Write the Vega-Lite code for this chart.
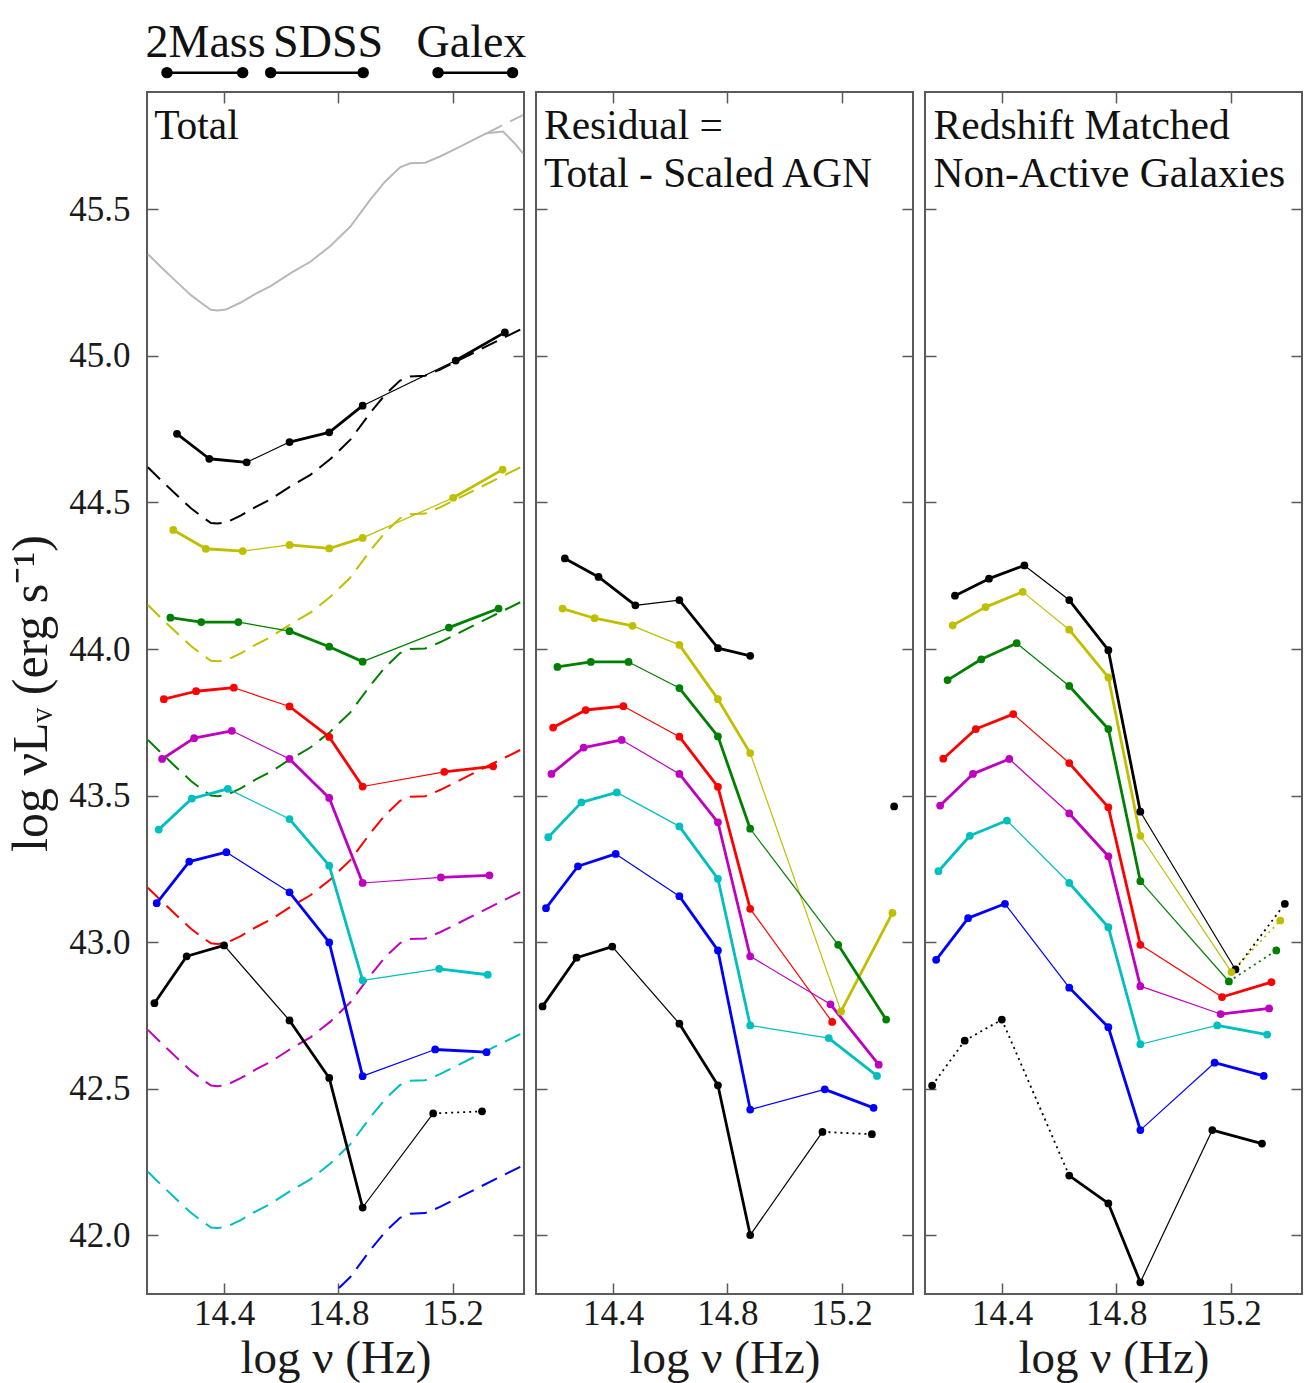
{
  "$schema": "https://vega.github.io/schema/vega-lite/v6.json",
  "background": "white",
  "padding": {"left": 5, "top": 18, "right": 4, "bottom": 2},
  "spacing": 12,
  "bounds": "flush",
  "config": {
    "view": {"stroke": "#5a5a5a", "strokeWidth": 2},
    "font": "Liberation Serif",
    "axis": {
      "domain": false, "grid": false, "ticks": true, "tickSize": -11,
      "tickColor": "#5a5a5a", "tickWidth": 1.5,
      "labelFont": "Liberation Serif", "labelFontSize": 35, "labelColor": "#1a1a1a",
      "titleFont": "Liberation Serif", "titleFontSize": 47, "titleFontWeight": "normal", "titleColor": "#1a1a1a"
    }
  },
  "datasets": {
    "surveys": [
      {"survey": "2Mass", "lo": 14.200, "hi": 14.465, "center": 14.335},
      {"survey": "SDSS", "lo": 14.563, "hi": 14.887, "center": 14.764},
      {"survey": "Galex", "lo": 15.149, "hi": 15.410, "center": 15.266}
    ],
    "panels": [
      {"panel": "Total", "label": "Total"},
      {"panel": "Residual", "label": "Residual =\nTotal - Scaled AGN"},
      {"panel": "Matched", "label": "Redshift Matched\nNon-Active Galaxies"}
    ],
    "composite": [
      {"x": 14.133, "y": 45.347}, {"x": 14.179, "y": 45.303}, {"x": 14.232, "y": 45.254}, {"x": 14.284, "y": 45.207},
      {"x": 14.319, "y": 45.181}, {"x": 14.354, "y": 45.157}, {"x": 14.377, "y": 45.155}, {"x": 14.406, "y": 45.158},
      {"x": 14.458, "y": 45.182}, {"x": 14.511, "y": 45.212}, {"x": 14.563, "y": 45.238}, {"x": 14.633, "y": 45.282},
      {"x": 14.702, "y": 45.321}, {"x": 14.772, "y": 45.375}, {"x": 14.842, "y": 45.441}, {"x": 14.912, "y": 45.533},
      {"x": 14.964, "y": 45.595}, {"x": 15.016, "y": 45.643}, {"x": 15.051, "y": 45.657}, {"x": 15.104, "y": 45.659},
      {"x": 15.156, "y": 45.680}, {"x": 15.226, "y": 45.714}, {"x": 15.295, "y": 45.748}, {"x": 15.319, "y": 45.759},
      {"x": 15.377, "y": 45.765}, {"x": 15.423, "y": 45.719}, {"x": 15.446, "y": 45.691}
    ],
    "scaled": [
      {"sample": "Q", "x": 15.320, "y": 45.760}, {"sample": "Q", "x": 15.365, "y": 45.782}, {"sample": "Q", "x": 15.446, "y": 45.821},

      {"sample": "S1", "x": 14.133, "y": 44.620}, {"sample": "S1", "x": 14.179, "y": 44.576}, {"sample": "S1", "x": 14.232, "y": 44.527},
      {"sample": "S1", "x": 14.284, "y": 44.480}, {"sample": "S1", "x": 14.319, "y": 44.454}, {"sample": "S1", "x": 14.354, "y": 44.430},
      {"sample": "S1", "x": 14.377, "y": 44.428}, {"sample": "S1", "x": 14.406, "y": 44.431}, {"sample": "S1", "x": 14.458, "y": 44.455},
      {"sample": "S1", "x": 14.511, "y": 44.485}, {"sample": "S1", "x": 14.563, "y": 44.511}, {"sample": "S1", "x": 14.633, "y": 44.555},
      {"sample": "S1", "x": 14.702, "y": 44.594}, {"sample": "S1", "x": 14.772, "y": 44.648}, {"sample": "S1", "x": 14.842, "y": 44.714},
      {"sample": "S1", "x": 14.912, "y": 44.806}, {"sample": "S1", "x": 14.964, "y": 44.868}, {"sample": "S1", "x": 15.016, "y": 44.916},
      {"sample": "S1", "x": 15.051, "y": 44.930}, {"sample": "S1", "x": 15.104, "y": 44.932}, {"sample": "S1", "x": 15.156, "y": 44.953},
      {"sample": "S1", "x": 15.226, "y": 44.987}, {"sample": "S1", "x": 15.295, "y": 45.021}, {"sample": "S1", "x": 15.365, "y": 45.055},
      {"sample": "S1", "x": 15.446, "y": 45.094},

      {"sample": "S2", "x": 14.133, "y": 44.150}, {"sample": "S2", "x": 14.179, "y": 44.106}, {"sample": "S2", "x": 14.232, "y": 44.057},
      {"sample": "S2", "x": 14.284, "y": 44.010}, {"sample": "S2", "x": 14.319, "y": 43.984}, {"sample": "S2", "x": 14.354, "y": 43.960},
      {"sample": "S2", "x": 14.377, "y": 43.958}, {"sample": "S2", "x": 14.406, "y": 43.961}, {"sample": "S2", "x": 14.458, "y": 43.985},
      {"sample": "S2", "x": 14.511, "y": 44.015}, {"sample": "S2", "x": 14.563, "y": 44.041}, {"sample": "S2", "x": 14.633, "y": 44.085},
      {"sample": "S2", "x": 14.702, "y": 44.124}, {"sample": "S2", "x": 14.772, "y": 44.178}, {"sample": "S2", "x": 14.842, "y": 44.244},
      {"sample": "S2", "x": 14.912, "y": 44.336}, {"sample": "S2", "x": 14.964, "y": 44.398}, {"sample": "S2", "x": 15.016, "y": 44.446},
      {"sample": "S2", "x": 15.051, "y": 44.460}, {"sample": "S2", "x": 15.104, "y": 44.462}, {"sample": "S2", "x": 15.156, "y": 44.483},
      {"sample": "S2", "x": 15.226, "y": 44.517}, {"sample": "S2", "x": 15.295, "y": 44.551}, {"sample": "S2", "x": 15.365, "y": 44.585},
      {"sample": "S2", "x": 15.446, "y": 44.624},

      {"sample": "S3", "x": 14.133, "y": 43.690}, {"sample": "S3", "x": 14.179, "y": 43.646}, {"sample": "S3", "x": 14.232, "y": 43.597},
      {"sample": "S3", "x": 14.284, "y": 43.550}, {"sample": "S3", "x": 14.319, "y": 43.524}, {"sample": "S3", "x": 14.354, "y": 43.500},
      {"sample": "S3", "x": 14.377, "y": 43.498}, {"sample": "S3", "x": 14.406, "y": 43.501}, {"sample": "S3", "x": 14.458, "y": 43.525},
      {"sample": "S3", "x": 14.511, "y": 43.555}, {"sample": "S3", "x": 14.563, "y": 43.581}, {"sample": "S3", "x": 14.633, "y": 43.625},
      {"sample": "S3", "x": 14.702, "y": 43.664}, {"sample": "S3", "x": 14.772, "y": 43.718}, {"sample": "S3", "x": 14.842, "y": 43.784},
      {"sample": "S3", "x": 14.912, "y": 43.876}, {"sample": "S3", "x": 14.964, "y": 43.938}, {"sample": "S3", "x": 15.016, "y": 43.986},
      {"sample": "S3", "x": 15.051, "y": 44.000}, {"sample": "S3", "x": 15.104, "y": 44.002}, {"sample": "S3", "x": 15.156, "y": 44.023},
      {"sample": "S3", "x": 15.226, "y": 44.057}, {"sample": "S3", "x": 15.295, "y": 44.091}, {"sample": "S3", "x": 15.365, "y": 44.125},
      {"sample": "S3", "x": 15.446, "y": 44.164},

      {"sample": "S4", "x": 14.133, "y": 43.186}, {"sample": "S4", "x": 14.179, "y": 43.142}, {"sample": "S4", "x": 14.232, "y": 43.093},
      {"sample": "S4", "x": 14.284, "y": 43.046}, {"sample": "S4", "x": 14.319, "y": 43.020}, {"sample": "S4", "x": 14.354, "y": 42.996},
      {"sample": "S4", "x": 14.377, "y": 42.994}, {"sample": "S4", "x": 14.406, "y": 42.997}, {"sample": "S4", "x": 14.458, "y": 43.021},
      {"sample": "S4", "x": 14.511, "y": 43.051}, {"sample": "S4", "x": 14.563, "y": 43.077}, {"sample": "S4", "x": 14.633, "y": 43.121},
      {"sample": "S4", "x": 14.702, "y": 43.160}, {"sample": "S4", "x": 14.772, "y": 43.214}, {"sample": "S4", "x": 14.842, "y": 43.280},
      {"sample": "S4", "x": 14.912, "y": 43.372}, {"sample": "S4", "x": 14.964, "y": 43.434}, {"sample": "S4", "x": 15.016, "y": 43.482},
      {"sample": "S4", "x": 15.051, "y": 43.496}, {"sample": "S4", "x": 15.104, "y": 43.498}, {"sample": "S4", "x": 15.156, "y": 43.519},
      {"sample": "S4", "x": 15.226, "y": 43.553}, {"sample": "S4", "x": 15.295, "y": 43.587}, {"sample": "S4", "x": 15.365, "y": 43.621},
      {"sample": "S4", "x": 15.446, "y": 43.660},

      {"sample": "S5", "x": 14.133, "y": 42.701}, {"sample": "S5", "x": 14.179, "y": 42.657}, {"sample": "S5", "x": 14.232, "y": 42.608},
      {"sample": "S5", "x": 14.284, "y": 42.561}, {"sample": "S5", "x": 14.319, "y": 42.535}, {"sample": "S5", "x": 14.354, "y": 42.511},
      {"sample": "S5", "x": 14.377, "y": 42.509}, {"sample": "S5", "x": 14.406, "y": 42.512}, {"sample": "S5", "x": 14.458, "y": 42.536},
      {"sample": "S5", "x": 14.511, "y": 42.566}, {"sample": "S5", "x": 14.563, "y": 42.592}, {"sample": "S5", "x": 14.633, "y": 42.636},
      {"sample": "S5", "x": 14.702, "y": 42.675}, {"sample": "S5", "x": 14.772, "y": 42.729}, {"sample": "S5", "x": 14.842, "y": 42.795},
      {"sample": "S5", "x": 14.912, "y": 42.887}, {"sample": "S5", "x": 14.964, "y": 42.949}, {"sample": "S5", "x": 15.016, "y": 42.997},
      {"sample": "S5", "x": 15.051, "y": 43.011}, {"sample": "S5", "x": 15.104, "y": 43.013}, {"sample": "S5", "x": 15.156, "y": 43.034},
      {"sample": "S5", "x": 15.226, "y": 43.068}, {"sample": "S5", "x": 15.295, "y": 43.102}, {"sample": "S5", "x": 15.365, "y": 43.136},
      {"sample": "S5", "x": 15.446, "y": 43.175},

      {"sample": "S6", "x": 14.133, "y": 42.217}, {"sample": "S6", "x": 14.179, "y": 42.173}, {"sample": "S6", "x": 14.232, "y": 42.124},
      {"sample": "S6", "x": 14.284, "y": 42.077}, {"sample": "S6", "x": 14.319, "y": 42.051}, {"sample": "S6", "x": 14.354, "y": 42.027},
      {"sample": "S6", "x": 14.377, "y": 42.025}, {"sample": "S6", "x": 14.406, "y": 42.028}, {"sample": "S6", "x": 14.458, "y": 42.052},
      {"sample": "S6", "x": 14.511, "y": 42.082}, {"sample": "S6", "x": 14.563, "y": 42.108}, {"sample": "S6", "x": 14.633, "y": 42.152},
      {"sample": "S6", "x": 14.702, "y": 42.191}, {"sample": "S6", "x": 14.772, "y": 42.245}, {"sample": "S6", "x": 14.842, "y": 42.311},
      {"sample": "S6", "x": 14.912, "y": 42.403}, {"sample": "S6", "x": 14.964, "y": 42.465}, {"sample": "S6", "x": 15.016, "y": 42.513},
      {"sample": "S6", "x": 15.051, "y": 42.527}, {"sample": "S6", "x": 15.104, "y": 42.529}, {"sample": "S6", "x": 15.156, "y": 42.550},
      {"sample": "S6", "x": 15.226, "y": 42.584}, {"sample": "S6", "x": 15.295, "y": 42.618}, {"sample": "S6", "x": 15.365, "y": 42.652},
      {"sample": "S6", "x": 15.446, "y": 42.691},

      {"sample": "S7", "x": 14.133, "y": 41.764}, {"sample": "S7", "x": 14.179, "y": 41.720}, {"sample": "S7", "x": 14.232, "y": 41.671},
      {"sample": "S7", "x": 14.284, "y": 41.624}, {"sample": "S7", "x": 14.319, "y": 41.598}, {"sample": "S7", "x": 14.354, "y": 41.574},
      {"sample": "S7", "x": 14.377, "y": 41.572}, {"sample": "S7", "x": 14.406, "y": 41.575}, {"sample": "S7", "x": 14.458, "y": 41.599},
      {"sample": "S7", "x": 14.511, "y": 41.629}, {"sample": "S7", "x": 14.563, "y": 41.655}, {"sample": "S7", "x": 14.633, "y": 41.699},
      {"sample": "S7", "x": 14.702, "y": 41.738}, {"sample": "S7", "x": 14.772, "y": 41.792}, {"sample": "S7", "x": 14.842, "y": 41.858},
      {"sample": "S7", "x": 14.912, "y": 41.950}, {"sample": "S7", "x": 14.964, "y": 42.012}, {"sample": "S7", "x": 15.016, "y": 42.060},
      {"sample": "S7", "x": 15.051, "y": 42.074}, {"sample": "S7", "x": 15.104, "y": 42.076}, {"sample": "S7", "x": 15.156, "y": 42.097},
      {"sample": "S7", "x": 15.226, "y": 42.131}, {"sample": "S7", "x": 15.295, "y": 42.165}, {"sample": "S7", "x": 15.365, "y": 42.199},
      {"sample": "S7", "x": 15.446, "y": 42.238}
    ],
    "points": [
      {"panel": "Total", "sample": "S1", "survey": "2MASS", "x": 14.235, "y": 44.734},
      {"panel": "Total", "sample": "S1", "survey": "2MASS", "x": 14.348, "y": 44.649},
      {"panel": "Total", "sample": "S1", "survey": "2MASS", "x": 14.479, "y": 44.637},
      {"panel": "Total", "sample": "S1", "survey": "SDSS", "x": 14.629, "y": 44.706},
      {"panel": "Total", "sample": "S1", "survey": "SDSS", "x": 14.768, "y": 44.739},
      {"panel": "Total", "sample": "S1", "survey": "SDSS", "x": 14.885, "y": 44.830},
      {"panel": "Total", "sample": "S1", "survey": "GALEX", "x": 15.211, "y": 44.984},
      {"panel": "Total", "sample": "S1", "survey": "GALEX", "x": 15.383, "y": 45.080},

      {"panel": "Total", "sample": "S2", "survey": "2MASS", "x": 14.222, "y": 44.406},
      {"panel": "Total", "sample": "S2", "survey": "2MASS", "x": 14.336, "y": 44.342},
      {"panel": "Total", "sample": "S2", "survey": "2MASS", "x": 14.465, "y": 44.334},
      {"panel": "Total", "sample": "S2", "survey": "SDSS", "x": 14.629, "y": 44.355},
      {"panel": "Total", "sample": "S2", "survey": "SDSS", "x": 14.768, "y": 44.343},
      {"panel": "Total", "sample": "S2", "survey": "SDSS", "x": 14.885, "y": 44.379},
      {"panel": "Total", "sample": "S2", "survey": "GALEX", "x": 15.202, "y": 44.516},
      {"panel": "Total", "sample": "S2", "survey": "GALEX", "x": 15.375, "y": 44.612},

      {"panel": "Total", "sample": "S3", "survey": "2MASS", "x": 14.212, "y": 44.107},
      {"panel": "Total", "sample": "S3", "survey": "2MASS", "x": 14.320, "y": 44.092},
      {"panel": "Total", "sample": "S3", "survey": "2MASS", "x": 14.450, "y": 44.092},
      {"panel": "Total", "sample": "S3", "survey": "SDSS", "x": 14.629, "y": 44.061},
      {"panel": "Total", "sample": "S3", "survey": "SDSS", "x": 14.768, "y": 44.008},
      {"panel": "Total", "sample": "S3", "survey": "SDSS", "x": 14.885, "y": 43.957},
      {"panel": "Total", "sample": "S3", "survey": "GALEX", "x": 15.187, "y": 44.073},
      {"panel": "Total", "sample": "S3", "survey": "GALEX", "x": 15.361, "y": 44.138},

      {"panel": "Total", "sample": "S4", "survey": "2MASS", "x": 14.189, "y": 43.829},
      {"panel": "Total", "sample": "S4", "survey": "2MASS", "x": 14.302, "y": 43.856},
      {"panel": "Total", "sample": "S4", "survey": "2MASS", "x": 14.434, "y": 43.868},
      {"panel": "Total", "sample": "S4", "survey": "SDSS", "x": 14.629, "y": 43.804},
      {"panel": "Total", "sample": "S4", "survey": "SDSS", "x": 14.768, "y": 43.700},
      {"panel": "Total", "sample": "S4", "survey": "SDSS", "x": 14.885, "y": 43.531},
      {"panel": "Total", "sample": "S4", "survey": "GALEX", "x": 15.171, "y": 43.581},
      {"panel": "Total", "sample": "S4", "survey": "GALEX", "x": 15.342, "y": 43.600},

      {"panel": "Total", "sample": "S5", "survey": "2MASS", "x": 14.183, "y": 43.625},
      {"panel": "Total", "sample": "S5", "survey": "2MASS", "x": 14.295, "y": 43.696},
      {"panel": "Total", "sample": "S5", "survey": "2MASS", "x": 14.427, "y": 43.721},
      {"panel": "Total", "sample": "S5", "survey": "SDSS", "x": 14.629, "y": 43.625},
      {"panel": "Total", "sample": "S5", "survey": "SDSS", "x": 14.768, "y": 43.492},
      {"panel": "Total", "sample": "S5", "survey": "SDSS", "x": 14.885, "y": 43.202},
      {"panel": "Total", "sample": "S5", "survey": "GALEX", "x": 15.159, "y": 43.221},
      {"panel": "Total", "sample": "S5", "survey": "GALEX", "x": 15.329, "y": 43.228},

      {"panel": "Total", "sample": "S6", "survey": "2MASS", "x": 14.171, "y": 43.384},
      {"panel": "Total", "sample": "S6", "survey": "2MASS", "x": 14.287, "y": 43.490},
      {"panel": "Total", "sample": "S6", "survey": "2MASS", "x": 14.413, "y": 43.523},
      {"panel": "Total", "sample": "S6", "survey": "SDSS", "x": 14.629, "y": 43.420},
      {"panel": "Total", "sample": "S6", "survey": "SDSS", "x": 14.768, "y": 43.261},
      {"panel": "Total", "sample": "S6", "survey": "SDSS", "x": 14.885, "y": 42.870},
      {"panel": "Total", "sample": "S6", "survey": "GALEX", "x": 15.153, "y": 42.909},
      {"panel": "Total", "sample": "S6", "survey": "GALEX", "x": 15.323, "y": 42.889},

      {"panel": "Total", "sample": "S7", "survey": "2MASS", "x": 14.164, "y": 43.133},
      {"panel": "Total", "sample": "S7", "survey": "2MASS", "x": 14.278, "y": 43.275},
      {"panel": "Total", "sample": "S7", "survey": "2MASS", "x": 14.408, "y": 43.307},
      {"panel": "Total", "sample": "S7", "survey": "SDSS", "x": 14.629, "y": 43.170},
      {"panel": "Total", "sample": "S7", "survey": "SDSS", "x": 14.768, "y": 42.999},
      {"panel": "Total", "sample": "S7", "survey": "SDSS", "x": 14.885, "y": 42.543},
      {"panel": "Total", "sample": "S7", "survey": "GALEX", "x": 15.139, "y": 42.634},
      {"panel": "Total", "sample": "S7", "survey": "GALEX", "x": 15.319, "y": 42.625},

      {"panel": "Total", "sample": "S8", "survey": "2MASS", "x": 14.156, "y": 42.792},
      {"panel": "Total", "sample": "S8", "survey": "2MASS", "x": 14.269, "y": 42.952},
      {"panel": "Total", "sample": "S8", "survey": "2MASS", "x": 14.400, "y": 42.989},
      {"panel": "Total", "sample": "S8", "survey": "SDSS", "x": 14.629, "y": 42.733},
      {"panel": "Total", "sample": "S8", "survey": "SDSS", "x": 14.768, "y": 42.537},
      {"panel": "Total", "sample": "S8", "survey": "SDSS", "x": 14.885, "y": 42.095},
      {"panel": "Total", "sample": "S8", "survey": "GALEX", "x": 15.132, "y": 42.416, "connection": "uncertain"},
      {"panel": "Total", "sample": "S8", "survey": "GALEX", "x": 15.303, "y": 42.423},

      {"panel": "Residual", "sample": "S1", "survey": "2MASS", "x": 14.231, "y": 44.309},
      {"panel": "Residual", "sample": "S1", "survey": "2MASS", "x": 14.349, "y": 44.246},
      {"panel": "Residual", "sample": "S1", "survey": "2MASS", "x": 14.478, "y": 44.149},
      {"panel": "Residual", "sample": "S1", "survey": "SDSS", "x": 14.632, "y": 44.167},
      {"panel": "Residual", "sample": "S1", "survey": "SDSS", "x": 14.767, "y": 44.003},
      {"panel": "Residual", "sample": "S1", "survey": "SDSS", "x": 14.880, "y": 43.977, "connection": "none"},
      {"panel": "Residual", "sample": "S1", "survey": "GALEX", "x": 15.384, "y": 43.463},

      {"panel": "Residual", "sample": "S2", "survey": "2MASS", "x": 14.223, "y": 44.138},
      {"panel": "Residual", "sample": "S2", "survey": "2MASS", "x": 14.335, "y": 44.105},
      {"panel": "Residual", "sample": "S2", "survey": "2MASS", "x": 14.468, "y": 44.079},
      {"panel": "Residual", "sample": "S2", "survey": "SDSS", "x": 14.632, "y": 44.014},
      {"panel": "Residual", "sample": "S2", "survey": "SDSS", "x": 14.767, "y": 43.829},
      {"panel": "Residual", "sample": "S2", "survey": "SDSS", "x": 14.880, "y": 43.645},
      {"panel": "Residual", "sample": "S2", "survey": "GALEX", "x": 15.198, "y": 42.764},
      {"panel": "Residual", "sample": "S2", "survey": "GALEX", "x": 15.378, "y": 43.100},

      {"panel": "Residual", "sample": "S3", "survey": "2MASS", "x": 14.205, "y": 43.939},
      {"panel": "Residual", "sample": "S3", "survey": "2MASS", "x": 14.322, "y": 43.956},
      {"panel": "Residual", "sample": "S3", "survey": "2MASS", "x": 14.454, "y": 43.956},
      {"panel": "Residual", "sample": "S3", "survey": "SDSS", "x": 14.632, "y": 43.867},
      {"panel": "Residual", "sample": "S3", "survey": "SDSS", "x": 14.767, "y": 43.702},
      {"panel": "Residual", "sample": "S3", "survey": "SDSS", "x": 14.880, "y": 43.387},
      {"panel": "Residual", "sample": "S3", "survey": "GALEX", "x": 15.188, "y": 42.991},
      {"panel": "Residual", "sample": "S3", "survey": "GALEX", "x": 15.356, "y": 42.736},

      {"panel": "Residual", "sample": "S4", "survey": "2MASS", "x": 14.190, "y": 43.732},
      {"panel": "Residual", "sample": "S4", "survey": "2MASS", "x": 14.304, "y": 43.792},
      {"panel": "Residual", "sample": "S4", "survey": "2MASS", "x": 14.436, "y": 43.805},
      {"panel": "Residual", "sample": "S4", "survey": "SDSS", "x": 14.632, "y": 43.701},
      {"panel": "Residual", "sample": "S4", "survey": "SDSS", "x": 14.767, "y": 43.530},
      {"panel": "Residual", "sample": "S4", "survey": "SDSS", "x": 14.880, "y": 43.114},
      {"panel": "Residual", "sample": "S4", "survey": "GALEX", "x": 15.167, "y": 42.728},

      {"panel": "Residual", "sample": "S5", "survey": "2MASS", "x": 14.184, "y": 43.574},
      {"panel": "Residual", "sample": "S5", "survey": "2MASS", "x": 14.297, "y": 43.664},
      {"panel": "Residual", "sample": "S5", "survey": "2MASS", "x": 14.430, "y": 43.690},
      {"panel": "Residual", "sample": "S5", "survey": "SDSS", "x": 14.632, "y": 43.574},
      {"panel": "Residual", "sample": "S5", "survey": "SDSS", "x": 14.767, "y": 43.409},
      {"panel": "Residual", "sample": "S5", "survey": "SDSS", "x": 14.880, "y": 42.952},
      {"panel": "Residual", "sample": "S5", "survey": "GALEX", "x": 15.161, "y": 42.788},
      {"panel": "Residual", "sample": "S5", "survey": "GALEX", "x": 15.330, "y": 42.582},

      {"panel": "Residual", "sample": "S6", "survey": "2MASS", "x": 14.173, "y": 43.358},
      {"panel": "Residual", "sample": "S6", "survey": "2MASS", "x": 14.289, "y": 43.477},
      {"panel": "Residual", "sample": "S6", "survey": "2MASS", "x": 14.413, "y": 43.511},
      {"panel": "Residual", "sample": "S6", "survey": "SDSS", "x": 14.632, "y": 43.395},
      {"panel": "Residual", "sample": "S6", "survey": "SDSS", "x": 14.767, "y": 43.216},
      {"panel": "Residual", "sample": "S6", "survey": "SDSS", "x": 14.880, "y": 42.716},
      {"panel": "Residual", "sample": "S6", "survey": "GALEX", "x": 15.155, "y": 42.673},
      {"panel": "Residual", "sample": "S6", "survey": "GALEX", "x": 15.324, "y": 42.544},

      {"panel": "Residual", "sample": "S7", "survey": "2MASS", "x": 14.165, "y": 43.116},
      {"panel": "Residual", "sample": "S7", "survey": "2MASS", "x": 14.277, "y": 43.259},
      {"panel": "Residual", "sample": "S7", "survey": "2MASS", "x": 14.409, "y": 43.301},
      {"panel": "Residual", "sample": "S7", "survey": "SDSS", "x": 14.632, "y": 43.157},
      {"panel": "Residual", "sample": "S7", "survey": "SDSS", "x": 14.767, "y": 42.972},
      {"panel": "Residual", "sample": "S7", "survey": "SDSS", "x": 14.880, "y": 42.429},
      {"panel": "Residual", "sample": "S7", "survey": "GALEX", "x": 15.141, "y": 42.498},
      {"panel": "Residual", "sample": "S7", "survey": "GALEX", "x": 15.312, "y": 42.435},

      {"panel": "Residual", "sample": "S8", "survey": "2MASS", "x": 14.153, "y": 42.781},
      {"panel": "Residual", "sample": "S8", "survey": "2MASS", "x": 14.272, "y": 42.947},
      {"panel": "Residual", "sample": "S8", "survey": "2MASS", "x": 14.397, "y": 42.985},
      {"panel": "Residual", "sample": "S8", "survey": "SDSS", "x": 14.632, "y": 42.722},
      {"panel": "Residual", "sample": "S8", "survey": "SDSS", "x": 14.767, "y": 42.512},
      {"panel": "Residual", "sample": "S8", "survey": "SDSS", "x": 14.880, "y": 42.001},
      {"panel": "Residual", "sample": "S8", "survey": "GALEX", "x": 15.133, "y": 42.353, "connection": "uncertain"},
      {"panel": "Residual", "sample": "S8", "survey": "GALEX", "x": 15.306, "y": 42.345},

      {"panel": "Matched", "sample": "S1", "survey": "2MASS", "x": 14.235, "y": 44.182},
      {"panel": "Matched", "sample": "S1", "survey": "2MASS", "x": 14.354, "y": 44.240},
      {"panel": "Matched", "sample": "S1", "survey": "2MASS", "x": 14.478, "y": 44.285},
      {"panel": "Matched", "sample": "S1", "survey": "SDSS", "x": 14.635, "y": 44.167},
      {"panel": "Matched", "sample": "S1", "survey": "SDSS", "x": 14.772, "y": 43.996},
      {"panel": "Matched", "sample": "S1", "survey": "SDSS", "x": 14.884, "y": 43.445},
      {"panel": "Matched", "sample": "S1", "survey": "GALEX", "x": 15.217, "y": 42.907, "connection": "uncertain"},
      {"panel": "Matched", "sample": "S1", "survey": "GALEX", "x": 15.390, "y": 43.131},

      {"panel": "Matched", "sample": "S2", "survey": "2MASS", "x": 14.227, "y": 44.081},
      {"panel": "Matched", "sample": "S2", "survey": "2MASS", "x": 14.342, "y": 44.143},
      {"panel": "Matched", "sample": "S2", "survey": "2MASS", "x": 14.472, "y": 44.195},
      {"panel": "Matched", "sample": "S2", "survey": "SDSS", "x": 14.635, "y": 44.066},
      {"panel": "Matched", "sample": "S2", "survey": "SDSS", "x": 14.772, "y": 43.903},
      {"panel": "Matched", "sample": "S2", "survey": "SDSS", "x": 14.884, "y": 43.363},
      {"panel": "Matched", "sample": "S2", "survey": "GALEX", "x": 15.203, "y": 42.898, "connection": "uncertain"},
      {"panel": "Matched", "sample": "S2", "survey": "GALEX", "x": 15.374, "y": 43.074},

      {"panel": "Matched", "sample": "S3", "survey": "2MASS", "x": 14.209, "y": 43.894},
      {"panel": "Matched", "sample": "S3", "survey": "2MASS", "x": 14.327, "y": 43.965},
      {"panel": "Matched", "sample": "S3", "survey": "2MASS", "x": 14.451, "y": 44.020},
      {"panel": "Matched", "sample": "S3", "survey": "SDSS", "x": 14.635, "y": 43.874},
      {"panel": "Matched", "sample": "S3", "survey": "SDSS", "x": 14.772, "y": 43.727},
      {"panel": "Matched", "sample": "S3", "survey": "SDSS", "x": 14.884, "y": 43.208},
      {"panel": "Matched", "sample": "S3", "survey": "GALEX", "x": 15.194, "y": 42.866, "connection": "uncertain"},
      {"panel": "Matched", "sample": "S3", "survey": "GALEX", "x": 15.360, "y": 42.972},

      {"panel": "Matched", "sample": "S4", "survey": "2MASS", "x": 14.194, "y": 43.626},
      {"panel": "Matched", "sample": "S4", "survey": "2MASS", "x": 14.308, "y": 43.727},
      {"panel": "Matched", "sample": "S4", "survey": "2MASS", "x": 14.439, "y": 43.778},
      {"panel": "Matched", "sample": "S4", "survey": "SDSS", "x": 14.635, "y": 43.611},
      {"panel": "Matched", "sample": "S4", "survey": "SDSS", "x": 14.772, "y": 43.460},
      {"panel": "Matched", "sample": "S4", "survey": "SDSS", "x": 14.884, "y": 42.991},
      {"panel": "Matched", "sample": "S4", "survey": "GALEX", "x": 15.170, "y": 42.813},
      {"panel": "Matched", "sample": "S4", "survey": "GALEX", "x": 15.343, "y": 42.864},

      {"panel": "Matched", "sample": "S5", "survey": "2MASS", "x": 14.183, "y": 43.466},
      {"panel": "Matched", "sample": "S5", "survey": "2MASS", "x": 14.298, "y": 43.574},
      {"panel": "Matched", "sample": "S5", "survey": "2MASS", "x": 14.425, "y": 43.625},
      {"panel": "Matched", "sample": "S5", "survey": "SDSS", "x": 14.635, "y": 43.439},
      {"panel": "Matched", "sample": "S5", "survey": "SDSS", "x": 14.772, "y": 43.293},
      {"panel": "Matched", "sample": "S5", "survey": "SDSS", "x": 14.884, "y": 42.850},
      {"panel": "Matched", "sample": "S5", "survey": "GALEX", "x": 15.165, "y": 42.755},
      {"panel": "Matched", "sample": "S5", "survey": "GALEX", "x": 15.335, "y": 42.774},

      {"panel": "Matched", "sample": "S6", "survey": "2MASS", "x": 14.177, "y": 43.242},
      {"panel": "Matched", "sample": "S6", "survey": "2MASS", "x": 14.287, "y": 43.363},
      {"panel": "Matched", "sample": "S6", "survey": "2MASS", "x": 14.417, "y": 43.415},
      {"panel": "Matched", "sample": "S6", "survey": "SDSS", "x": 14.635, "y": 43.202},
      {"panel": "Matched", "sample": "S6", "survey": "SDSS", "x": 14.772, "y": 43.051},
      {"panel": "Matched", "sample": "S6", "survey": "SDSS", "x": 14.884, "y": 42.652},
      {"panel": "Matched", "sample": "S6", "survey": "GALEX", "x": 15.153, "y": 42.716},
      {"panel": "Matched", "sample": "S6", "survey": "GALEX", "x": 15.328, "y": 42.685},

      {"panel": "Matched", "sample": "S7", "survey": "2MASS", "x": 14.169, "y": 42.940},
      {"panel": "Matched", "sample": "S7", "survey": "2MASS", "x": 14.281, "y": 43.082},
      {"panel": "Matched", "sample": "S7", "survey": "2MASS", "x": 14.410, "y": 43.131},
      {"panel": "Matched", "sample": "S7", "survey": "SDSS", "x": 14.635, "y": 42.845},
      {"panel": "Matched", "sample": "S7", "survey": "SDSS", "x": 14.772, "y": 42.710},
      {"panel": "Matched", "sample": "S7", "survey": "SDSS", "x": 14.884, "y": 42.359},
      {"panel": "Matched", "sample": "S7", "survey": "GALEX", "x": 15.144, "y": 42.589},
      {"panel": "Matched", "sample": "S7", "survey": "GALEX", "x": 15.316, "y": 42.544},

      {"panel": "Matched", "sample": "S8", "survey": "2MASS", "x": 14.155, "y": 42.511, "connection": "uncertain"},
      {"panel": "Matched", "sample": "S8", "survey": "2MASS", "x": 14.269, "y": 42.664, "connection": "uncertain"},
      {"panel": "Matched", "sample": "S8", "survey": "2MASS", "x": 14.399, "y": 42.736, "connection": "uncertain"},
      {"panel": "Matched", "sample": "S8", "survey": "SDSS", "x": 14.635, "y": 42.204},
      {"panel": "Matched", "sample": "S8", "survey": "SDSS", "x": 14.772, "y": 42.109},
      {"panel": "Matched", "sample": "S8", "survey": "SDSS", "x": 14.884, "y": 41.840},
      {"panel": "Matched", "sample": "S8", "survey": "GALEX", "x": 15.136, "y": 42.359},
      {"panel": "Matched", "sample": "S8", "survey": "GALEX", "x": 15.310, "y": 42.313}
    ]
  },
  "hconcat": [
    {
      "width": 377, "height": 1202,
      "layer": [
        {
          "data": {"name": "scaled"},
          "mark": {"type": "line", "strokeDash": [17, 9], "strokeWidth": 2, "clip": true},
          "encoding": {
            "x": {"field": "x", "type": "quantitative", "scale": {"domain": [14.13, 15.45], "nice": false, "zero": false}, "axis": null},
            "y": {"field": "y", "type": "quantitative", "scale": {"domain": [41.8, 45.9], "nice": false, "zero": false}, "axis": null},
            "color": {"field": "sample", "type": "nominal", "legend": null,
              "scale": {"domain": ["S1", "S2", "S3", "S4", "S5", "S6", "S7", "S8", "Q"],
                        "range": ["#000000", "#bfbf00", "#008000", "#ff0000", "#bf00bf", "#00bfbf", "#0000ff", "#000000", "#b8b8b8"]}}
          }
        },
        {
          "data": {"name": "composite"},
          "mark": {"type": "line", "strokeWidth": 2, "clip": true, "color": "#b8b8b8"},
          "encoding": {
            "x": {"field": "x", "type": "quantitative", "scale": {"domain": [14.13, 15.45], "nice": false, "zero": false}, "axis": null},
            "y": {"field": "y", "type": "quantitative", "scale": {"domain": [41.8, 45.9], "nice": false, "zero": false}, "axis": null}
          }
        },
        {
          "data": {"name": "surveys"},
          "mark": {"type": "rule", "strokeWidth": 2.5, "color": "#000000"},
          "encoding": {
            "x": {"field": "lo", "type": "quantitative", "scale": {"domain": [14.13, 15.45], "nice": false, "zero": false}, "axis": null},
            "x2": {"field": "hi"},
            "y": {"datum": 45.966, "type": "quantitative", "scale": {"domain": [41.8, 45.9], "nice": false, "zero": false}, "axis": null}
          }
        },
        {
          "data": {"name": "surveys"},
          "mark": {"type": "circle", "size": 130, "opacity": 1, "color": "#000000"},
          "encoding": {
            "x": {"field": "lo", "type": "quantitative", "scale": {"domain": [14.13, 15.45], "nice": false, "zero": false}, "axis": null},
            "y": {"datum": 45.966, "type": "quantitative", "scale": {"domain": [41.8, 45.9], "nice": false, "zero": false}, "axis": null}
          }
        },
        {
          "data": {"name": "surveys"},
          "mark": {"type": "circle", "size": 130, "opacity": 1, "color": "#000000"},
          "encoding": {
            "x": {"field": "hi", "type": "quantitative", "scale": {"domain": [14.13, 15.45], "nice": false, "zero": false}, "axis": null},
            "y": {"datum": 45.966, "type": "quantitative", "scale": {"domain": [41.8, 45.9], "nice": false, "zero": false}, "axis": null}
          }
        },
        {
          "data": {"name": "surveys"},
          "mark": {"type": "text", "fontSize": 46, "baseline": "alphabetic", "align": "center", "font": "Liberation Serif", "color": "#111111"},
          "encoding": {
            "x": {"field": "center", "type": "quantitative", "scale": {"domain": [14.13, 15.45], "nice": false, "zero": false}, "axis": null},
            "y": {"datum": 46.02, "type": "quantitative", "scale": {"domain": [41.8, 45.9], "nice": false, "zero": false}, "axis": null},
            "text": {"field": "survey", "type": "nominal"}
          }
        },
        {
          "data": {"name": "panels"},
          "transform": [{"filter": "datum.panel === 'Total'"}],
          "mark": {"type": "text", "fontSize": 41.5, "baseline": "alphabetic", "align": "left", "lineBreak": "\n", "lineHeight": 48, "font": "Liberation Serif", "color": "#111111"},
          "encoding": {
            "x": {"datum": 14.155, "type": "quantitative", "scale": {"domain": [14.13, 15.45], "nice": false, "zero": false}, "axis": null},
            "y": {"datum": 45.741, "type": "quantitative", "scale": {"domain": [41.8, 45.9], "nice": false, "zero": false}, "axis": null},
            "text": {"field": "label", "type": "nominal"}
          }
        },
        {
          "data": {"name": "points"},
          "transform": [
            {"filter": "datum.panel === 'Total'"},
            {"window": [
              {"op": "lead", "field": "x", "as": "x_next"},
              {"op": "lead", "field": "y", "as": "y_next"},
              {"op": "lead", "field": "survey", "as": "survey_next"}
            ], "groupby": ["sample"], "sort": [{"field": "x", "order": "ascending"}]}
          ],
          "encoding": {
            "x": {"field": "x", "type": "quantitative", "scale": {"domain": [14.13, 15.45], "nice": false, "zero": false}, "axis": null},
            "y": {"field": "y", "type": "quantitative", "scale": {"domain": [41.8, 45.9], "nice": false, "zero": false}, "axis": null},
            "color": {"field": "sample", "type": "nominal", "legend": null,
              "scale": {"domain": ["S1", "S2", "S3", "S4", "S5", "S6", "S7", "S8", "Q"],
                        "range": ["#000000", "#bfbf00", "#008000", "#ff0000", "#bf00bf", "#00bfbf", "#0000ff", "#000000", "#b8b8b8"]}}
          },
          "layer": [
            {
              "transform": [{"filter": "datum.x_next != null && !datum.connection && datum.survey !== datum.survey_next"}],
              "mark": {"type": "rule", "strokeWidth": 1.2},
              "encoding": {"x2": {"field": "x_next"}, "y2": {"field": "y_next"}}
            },
            {
              "transform": [{"filter": "datum.x_next != null && !datum.connection && datum.survey === datum.survey_next"}],
              "mark": {"type": "rule", "strokeWidth": 2.8, "strokeCap": "round"},
              "encoding": {
                "x": {"field": "x", "type": "quantitative", "scale": {"domain": [14.13, 15.45], "nice": false, "zero": false},
                      "axis": {"orient": "bottom", "values": [14.4, 14.8, 15.2], "format": ".1f", "title": "log ν (Hz)", "labelPadding": 13, "titlePadding": 4}},
                "y": {"field": "y", "type": "quantitative", "scale": {"domain": [41.8, 45.9], "nice": false, "zero": false},
                      "axis": {"orient": "left", "values": [42, 42.5, 43, 43.5, 44, 44.5, 45, 45.5], "format": ".1f", "title": "log νLᵥ (erg s⁻¹)", "titleFontSize": 50, "labelPadding": 28, "titlePadding": 12}},
                "x2": {"field": "x_next"}, "y2": {"field": "y_next"}
              }
            },
            {
              "transform": [{"filter": "datum.connection === 'uncertain'"}],
              "mark": {"type": "rule", "strokeWidth": 1.8, "strokeDash": [2, 4]},
              "encoding": {"x2": {"field": "x_next"}, "y2": {"field": "y_next"}}
            },
            {
              "mark": {"type": "circle", "size": 60, "opacity": 1},
              "encoding": {
                "x": {"field": "x", "type": "quantitative", "scale": {"domain": [14.13, 15.45], "nice": false, "zero": false},
                      "axis": {"orient": "top", "values": [14.4, 14.8, 15.2], "labels": false, "title": null}},
                "y": {"field": "y", "type": "quantitative", "scale": {"domain": [41.8, 45.9], "nice": false, "zero": false},
                      "axis": {"orient": "right", "values": [42, 42.5, 43, 43.5, 44, 44.5, 45, 45.5], "labels": false, "title": null}}
              }
            }
          ],
          "resolve": {"axis": {"x": "independent", "y": "independent"}}
        }
      ],
      "resolve": {"axis": {"x": "independent", "y": "independent"}}
    },
    {
      "width": 377, "height": 1202,
      "layer": [
        {
          "data": {"name": "panels"},
          "transform": [{"filter": "datum.panel === 'Residual'"}],
          "mark": {"type": "text", "fontSize": 41.5, "baseline": "alphabetic", "align": "left", "lineBreak": "\n", "lineHeight": 48, "font": "Liberation Serif", "color": "#111111"},
          "encoding": {
            "x": {"datum": 14.158, "type": "quantitative", "scale": {"domain": [14.13, 15.45], "nice": false, "zero": false}, "axis": null},
            "y": {"datum": 45.741, "type": "quantitative", "scale": {"domain": [41.8, 45.9], "nice": false, "zero": false}, "axis": null},
            "text": {"field": "label", "type": "nominal"}
          }
        },
        {
          "data": {"name": "points"},
          "transform": [
            {"filter": "datum.panel === 'Residual'"},
            {"window": [
              {"op": "lead", "field": "x", "as": "x_next"},
              {"op": "lead", "field": "y", "as": "y_next"},
              {"op": "lead", "field": "survey", "as": "survey_next"}
            ], "groupby": ["sample"], "sort": [{"field": "x", "order": "ascending"}]}
          ],
          "encoding": {
            "x": {"field": "x", "type": "quantitative", "scale": {"domain": [14.13, 15.45], "nice": false, "zero": false}, "axis": null},
            "y": {"field": "y", "type": "quantitative", "scale": {"domain": [41.8, 45.9], "nice": false, "zero": false}, "axis": null},
            "color": {"field": "sample", "type": "nominal", "legend": null,
              "scale": {"domain": ["S1", "S2", "S3", "S4", "S5", "S6", "S7", "S8", "Q"],
                        "range": ["#000000", "#bfbf00", "#008000", "#ff0000", "#bf00bf", "#00bfbf", "#0000ff", "#000000", "#b8b8b8"]}}
          },
          "layer": [
            {
              "transform": [{"filter": "datum.x_next != null && !datum.connection && datum.survey !== datum.survey_next"}],
              "mark": {"type": "rule", "strokeWidth": 1.2},
              "encoding": {"x2": {"field": "x_next"}, "y2": {"field": "y_next"}}
            },
            {
              "transform": [{"filter": "datum.x_next != null && !datum.connection && datum.survey === datum.survey_next"}],
              "mark": {"type": "rule", "strokeWidth": 2.8, "strokeCap": "round"},
              "encoding": {
                "x": {"field": "x", "type": "quantitative", "scale": {"domain": [14.13, 15.45], "nice": false, "zero": false},
                      "axis": {"orient": "bottom", "values": [14.4, 14.8, 15.2], "format": ".1f", "title": "log ν (Hz)", "labelPadding": 13, "titlePadding": 4}},
                "y": {"field": "y", "type": "quantitative", "scale": {"domain": [41.8, 45.9], "nice": false, "zero": false},
                      "axis": {"orient": "left", "values": [42, 42.5, 43, 43.5, 44, 44.5, 45, 45.5], "labels": false, "title": null}},
                "x2": {"field": "x_next"}, "y2": {"field": "y_next"}
              }
            },
            {
              "transform": [{"filter": "datum.connection === 'uncertain'"}],
              "mark": {"type": "rule", "strokeWidth": 1.8, "strokeDash": [2, 4]},
              "encoding": {"x2": {"field": "x_next"}, "y2": {"field": "y_next"}}
            },
            {
              "mark": {"type": "circle", "size": 60, "opacity": 1},
              "encoding": {
                "x": {"field": "x", "type": "quantitative", "scale": {"domain": [14.13, 15.45], "nice": false, "zero": false},
                      "axis": {"orient": "top", "values": [14.4, 14.8, 15.2], "labels": false, "title": null}},
                "y": {"field": "y", "type": "quantitative", "scale": {"domain": [41.8, 45.9], "nice": false, "zero": false},
                      "axis": {"orient": "right", "values": [42, 42.5, 43, 43.5, 44, 44.5, 45, 45.5], "labels": false, "title": null}}
              }
            }
          ],
          "resolve": {"axis": {"x": "independent", "y": "independent"}}
        }
      ],
      "resolve": {"axis": {"x": "independent", "y": "independent"}}
    },
    {
      "width": 377, "height": 1202,
      "layer": [
        {
          "data": {"name": "panels"},
          "transform": [{"filter": "datum.panel === 'Matched'"}],
          "mark": {"type": "text", "fontSize": 41.5, "baseline": "alphabetic", "align": "left", "lineBreak": "\n", "lineHeight": 48, "font": "Liberation Serif", "color": "#111111"},
          "encoding": {
            "x": {"datum": 14.16, "type": "quantitative", "scale": {"domain": [14.13, 15.45], "nice": false, "zero": false}, "axis": null},
            "y": {"datum": 45.741, "type": "quantitative", "scale": {"domain": [41.8, 45.9], "nice": false, "zero": false}, "axis": null},
            "text": {"field": "label", "type": "nominal"}
          }
        },
        {
          "data": {"name": "points"},
          "transform": [
            {"filter": "datum.panel === 'Matched'"},
            {"window": [
              {"op": "lead", "field": "x", "as": "x_next"},
              {"op": "lead", "field": "y", "as": "y_next"},
              {"op": "lead", "field": "survey", "as": "survey_next"}
            ], "groupby": ["sample"], "sort": [{"field": "x", "order": "ascending"}]}
          ],
          "encoding": {
            "x": {"field": "x", "type": "quantitative", "scale": {"domain": [14.13, 15.45], "nice": false, "zero": false}, "axis": null},
            "y": {"field": "y", "type": "quantitative", "scale": {"domain": [41.8, 45.9], "nice": false, "zero": false}, "axis": null},
            "color": {"field": "sample", "type": "nominal", "legend": null,
              "scale": {"domain": ["S1", "S2", "S3", "S4", "S5", "S6", "S7", "S8", "Q"],
                        "range": ["#000000", "#bfbf00", "#008000", "#ff0000", "#bf00bf", "#00bfbf", "#0000ff", "#000000", "#b8b8b8"]}}
          },
          "layer": [
            {
              "transform": [{"filter": "datum.x_next != null && !datum.connection && datum.survey !== datum.survey_next"}],
              "mark": {"type": "rule", "strokeWidth": 1.2},
              "encoding": {"x2": {"field": "x_next"}, "y2": {"field": "y_next"}}
            },
            {
              "transform": [{"filter": "datum.x_next != null && !datum.connection && datum.survey === datum.survey_next"}],
              "mark": {"type": "rule", "strokeWidth": 2.8, "strokeCap": "round"},
              "encoding": {
                "x": {"field": "x", "type": "quantitative", "scale": {"domain": [14.13, 15.45], "nice": false, "zero": false},
                      "axis": {"orient": "bottom", "values": [14.4, 14.8, 15.2], "format": ".1f", "title": "log ν (Hz)", "labelPadding": 13, "titlePadding": 4}},
                "y": {"field": "y", "type": "quantitative", "scale": {"domain": [41.8, 45.9], "nice": false, "zero": false},
                      "axis": {"orient": "left", "values": [42, 42.5, 43, 43.5, 44, 44.5, 45, 45.5], "labels": false, "title": null}},
                "x2": {"field": "x_next"}, "y2": {"field": "y_next"}
              }
            },
            {
              "transform": [{"filter": "datum.connection === 'uncertain'"}],
              "mark": {"type": "rule", "strokeWidth": 1.8, "strokeDash": [2, 4]},
              "encoding": {"x2": {"field": "x_next"}, "y2": {"field": "y_next"}}
            },
            {
              "mark": {"type": "circle", "size": 60, "opacity": 1},
              "encoding": {
                "x": {"field": "x", "type": "quantitative", "scale": {"domain": [14.13, 15.45], "nice": false, "zero": false},
                      "axis": {"orient": "top", "values": [14.4, 14.8, 15.2], "labels": false, "title": null}},
                "y": {"field": "y", "type": "quantitative", "scale": {"domain": [41.8, 45.9], "nice": false, "zero": false},
                      "axis": {"orient": "right", "values": [42, 42.5, 43, 43.5, 44, 44.5, 45, 45.5], "labels": false, "title": null}}
              }
            }
          ],
          "resolve": {"axis": {"x": "independent", "y": "independent"}}
        }
      ],
      "resolve": {"axis": {"x": "independent", "y": "independent"}}
    }
  ]
}
